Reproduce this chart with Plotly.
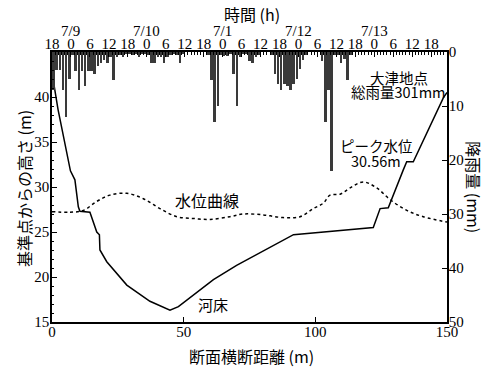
import plotly.graph_objects as go

# River bed cross-section (distance m, height m)
bed_distance = [0, 0.5, 2.3, 7.0, 8.7, 10.0, 10.6, 14.4, 17.0, 18.0, 18.2, 20.8, 28.4, 37.2, 44.8,
                48.0, 61.3, 70.1, 91.7, 122.0, 124.6, 127.7, 133.4, 134.7, 137.2, 148.6, 150]
bed_height = [42.0, 41.8, 38.6, 31.8, 30.8, 27.8, 27.3, 27.2, 25.0, 24.7, 23.0, 21.7, 19.1, 17.3, 16.3,
              16.7, 19.7, 21.3, 24.7, 25.5, 27.6, 27.7, 31.9, 32.8, 32.8, 39.9, 40.5]

# Water level curve
wl_distance = [0, 6.8, 11.9, 17.0, 22.0, 28.4, 34.7, 41.0, 47.4, 53.7, 60.0, 67.6, 72.7, 80.3, 87.8,
               94.2, 99.2, 103.0, 105.6, 109.4, 113.2, 118.2, 123.3, 128.4, 134.7, 141.0, 150]
wl_height = [27.26, 27.2, 27.4, 28.4, 29.1, 29.3, 28.7, 27.6, 26.7, 26.5, 26.4, 26.7, 27.0, 26.9, 26.6,
             26.7, 27.6, 28.2, 29.1, 29.2, 29.9, 30.56, 29.9, 28.6, 27.4, 26.7, 26.1]

# Hourly rainfall (mm) from 7/8 18h
rain = [7, 3.3, 3.3, 7, 12, 5, 0.5, 3.5, 7, 3.5,
        6.3, 3.5, 3.5, 4, 2.5, 2, 1.5, 2, 1, 5.2,
        1, 0.5, 1, 0.3, 0.3, 0.5, 0.3, 1, 0.3, 0.3,
        0.5, 2, 2, 1, 1, 2, 1, 0.5, 0.3, 0.5,
        2, 0.3, 0, 0, 0, 0, 0, 0, 0, 0.5,
        5.2, 13, 10, 0.5, 0.8, 0.8, 0.3, 4, 10, 1,
        0.3, 0.3, 1.7, 2, 1, 0.5, 0, 0, 0, 0.5,
        4, 6, 7, 6, 6.3, 7, 6, 5, 3.2, 1.5,
        0.5, 0, 0, 0, 0, 1.7, 13, 7, 22, 0.5,
        0.5, 2, 1.3, 5.2, 0.5, 0, 0, 0, 0, 0,
        0, 0, 0, 0, 0, 0, 0, 0, 0, 0,
        0, 0, 0, 0, 0, 0, 0, 0, 0, 0,
        0, 0, 0, 0, 0]
rain_hour_center = [i + 0.5 for i in range(len(rain))]

hour_tickvals = [0, 6, 12, 18, 24, 30, 36, 42, 48, 54, 60, 66, 72, 78, 84, 90, 96, 102, 108, 114, 120]
hour_ticktext = ["18", "0", "6", "12", "18", "0", "6", "12", "18", "0", "6", "12", "18",
                 "0", "6", "12", "18", "0", "6", "12", "18"]
date_pos = [6, 30, 54, 78, 102]
date_text = ["7/9", "7/10", "7/1", "7/12", "7/13"]

CJK = "Noto Sans CJK JP"
SERIF = "Liberation Serif"

fig = go.Figure()
fig.add_trace(go.Bar(x=rain_hour_center, y=rain, xaxis="x2", yaxis="y2", width=0.8,
                     marker=dict(color="#3a3a3a", line_width=0), showlegend=False))
fig.add_trace(go.Scatter(x=bed_distance, y=bed_height, mode="lines",
                         line=dict(color="black", width=1.5), showlegend=False))
fig.add_trace(go.Scatter(x=wl_distance, y=wl_height, mode="lines", line_shape="spline",
                         line=dict(color="black", width=1.5, dash="dot"), showlegend=False))

axis_common = dict(showline=True, linecolor="black", linewidth=1.5, showgrid=False, zeroline=False,
                   automargin=False, ticks="inside", tickcolor="black",
                   tickfont=dict(family=SERIF, size=15, color="black"))

fig.update_layout(
    width=491, height=368,
    margin=dict(l=52, r=44, t=52, b=46, autoexpand=False),
    paper_bgcolor="white", plot_bgcolor="white",
    bargap=0,
    xaxis=dict(range=[0, 150], tickvals=[0, 50, 100, 150], ticklen=5, ticklabelstandoff=-5,
               **axis_common),
    yaxis=dict(range=[15, 45], tickvals=[15, 20, 25, 30, 35, 40], ticklen=5, ticklabelstandoff=-2,
               minor=dict(dtick=1, ticks="inside", ticklen=2.5, tickcolor="black"), **axis_common),
    xaxis2=dict(range=[0, 125], overlaying="x", side="top", anchor="y", tickvals=hour_tickvals,
                ticktext=hour_ticktext, ticklen=5, ticklabelstandoff=-5,
                minor=dict(dtick=1, ticks="inside", ticklen=3, tickcolor="black"), **axis_common),
    yaxis2=dict(range=[50, 0], overlaying="y", side="right", anchor="x", ticklabelstandoff=-3,
                tickvals=[0, 10, 20, 30, 40, 50], ticklen=5, **axis_common),
)

ann = []
for p, t in zip(date_pos, date_text):
    ann.append(dict(x=p, y=1.078, xref="x2", yref="paper", text=t, showarrow=False,
                    xanchor="center", yanchor="middle",
                    font=dict(family=SERIF, size=15, color="black")))

def add_text(x, y, text, size, xref="x", yref="y", angle=0):
    ann.append(dict(x=x, y=y, xref=xref, yref=yref, text=text, showarrow=False, textangle=angle,
                    xanchor="center", yanchor="middle",
                    font=dict(family=CJK, size=size, color="black")))

add_text(58.9, 28.56, "水位曲線", 16)
add_text(61.1, 16.9, "河床", 15)
add_text(131.8, 42.2, "大津地点", 14.5)
add_text(131.4, 40.56, "総雨量301mm", 14.5)
add_text(123.4, 34.56, "ピーク水位", 14.5)
add_text(123.1, 32.9, "30.56m", 14.5)
add_text(0.506, 1.1407, "時間 (h)", 16, "paper", "paper")
add_text(0.504, -0.126, "断面横断距離 (m)", 16, "paper", "paper")
add_text(-0.0709, 0.496, "基準点からの高さ (m)", 16, "paper", "paper", -90)
add_text(1.068, 0.5, "降雨量 (mm)", 16, "paper", "paper", 90)

fig.update_layout(annotations=ann)
fig.write_html("out.html", config={"displayModeBar": False},
               post_script="document.body.style.margin='0';document.body.style.padding='0';")
